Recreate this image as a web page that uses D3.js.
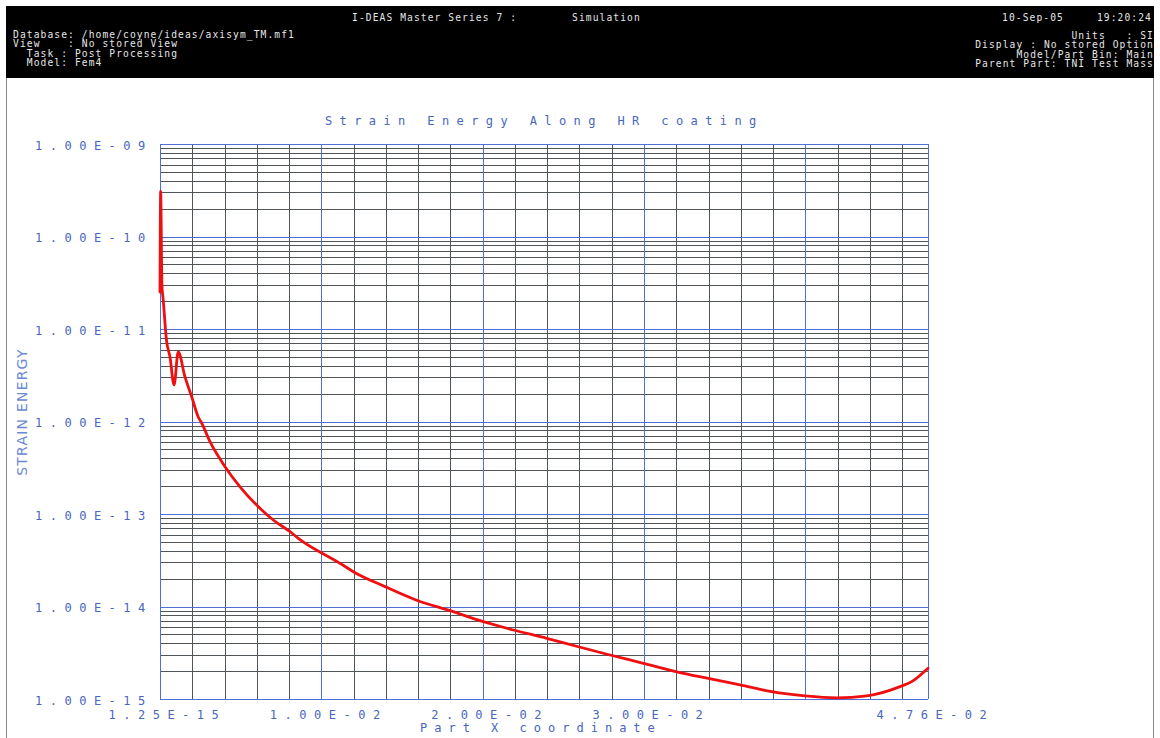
<!DOCTYPE html>
<html><head><meta charset="utf-8">
<script src="https://cdn.jsdelivr.net/npm/d3@7"></script>
<style>
html,body{margin:0;padding:0;background:#fff;overflow:hidden;}
svg{display:block;}
text{white-space:pre;}
</style></head><body>
<svg id="c" width="1160" height="738"></svg>
<script>
// ---- data ----
const xValues = [0, 0.00004, 0.00012, 0.0002, 0.0004, 0.00062, 0.00087, 0.00113, 0.00155, 0.00197,
  0.00237, 0.00259, 0.0031, 0.00403, 0.00496, 0.00599, 0.00702, 0.00806, 0.00857, 0.01116,
  0.01198, 0.01395, 0.01591, 0.01797, 0.02004, 0.0219, 0.02397, 0.02593, 0.02789, 0.02996,
  0.03203, 0.03398, 0.03595, 0.03791, 0.03998, 0.04194, 0.0438, 0.04587, 0.04659, 0.0476];
const yValues = [2.51e-11, 3.1e-10, 2.99e-11, 2.06e-11, 7.6e-12, 4.98e-12, 2.48e-12, 5.64e-12, 3.03e-12, 1.84e-12,
  1.12e-12, 9.57e-13, 6.05e-13, 3.25e-13, 1.97e-13, 1.25e-13, 8.61e-14, 6.44e-14, 5.46e-14, 2.93e-14,
  2.38e-14, 1.64e-14, 1.17e-14, 9.01e-15, 6.85e-15, 5.57e-15, 4.53e-15, 3.67e-15, 2.99e-15, 2.43e-15,
  1.97e-15, 1.67e-15, 1.42e-15, 1.2e-15, 1.08e-15, 1.03e-15, 1.08e-15, 1.36e-15, 1.54e-15, 2.15e-15];
const xTickValues = [1.25e-15, 0.01, 0.02, 0.03, 0.0476];
const xTickLabels = ["1.25E-15", "1.00E-02", "2.00E-02", "3.00E-02", "4.76E-02"];
const yTickValues = [1e-9, 1e-10, 1e-11, 1e-12, 1e-13, 1e-14, 1e-15];
const yTickLabels = ["1.00E-09", "1.00E-10", "1.00E-11", "1.00E-12", "1.00E-13", "1.00E-14", "1.00E-15"];
const chartTitle = "Strain Energy Along HR coating";
const xTitle = "Part X coordinate";
const yTitle = "STRAIN ENERGY";
const headerTitle = "I-DEAS Master Series 7 :";
const headerApp = "Simulation";
const headerDate = "10-Sep-05";
const headerTime = "19:20:24";
const headerLeft = ["Database: /home/coyne/ideas/axisym_TM.mf1", "View    : No stored View", "  Task : Post Processing", "  Model: Fem4"];
const headerRight = ["Units   : SI", "Display : No stored Option", "Model/Part Bin: Main", "Parent Part: TNI Test Mass"];

// ---- layout ----
const svg = d3.select("#c");
const L = 160, R = 928, T = 144, B = 699;
const x = d3.scaleLinear().domain([0, 0.0476]).range([L, R]);
const y = d3.scaleLog().domain([1e-15, 1e-9]).range([B, T]);

const BLUE = "#4f6fd6", GRID = "#50555a", TXT = "#4866c0";
const mono = "'DejaVu Sans Mono', 'Liberation Mono', monospace";

// frame & header
svg.append("rect").attr("x", 6.5).attr("y", 6.5).attr("width", 1147).attr("height", 760)
  .attr("fill", "none").attr("stroke", "#8a8a8a");
svg.append("rect").attr("x", 6).attr("y", 6).attr("width", 1148).attr("height", 72).attr("fill", "#000");
const hdr = svg.append("g").attr("font-family", mono).attr("font-size", "9.6px")
  .attr("letter-spacing", 1.1).attr("fill", "#e6e6e6");
hdr.append("text").attr("x", 352).attr("y", 21).text(headerTitle);
hdr.append("text").attr("x", 572).attr("y", 21).text(headerApp);
hdr.append("text").attr("x", 1002).attr("y", 21).text(headerDate);
hdr.append("text").attr("x", 1152).attr("y", 21).attr("text-anchor", "end").text(headerTime);
const leftBase = [37.5, 47, 56.5, 66], rightBase = [38.5, 48, 57.5, 67];
headerLeft.forEach((s, i) => hdr.append("text").attr("x", 13).attr("y", leftBase[i]).text(s));
headerRight.forEach((s, i) => hdr.append("text").attr("x", 1154).attr("y", rightBase[i]).attr("text-anchor", "end").text(s));

// grid (via axes)
const yMinor = [];
for (let k = -15; k < -9; k++) for (let m = 2; m <= 9; m++) yMinor.push(m * Math.pow(10, k));
const xMinor = d3.range(1, 24).map(i => i * 0.002).filter((v, i) => (i + 1) % 5 !== 0);
const xMajor = [0, 0.01, 0.02, 0.03, 0.04, 0.0476];

function gridify(g, color) {
  g.select(".domain").remove();
  g.selectAll(".tick text").remove();
  g.selectAll(".tick line").attr("stroke", color).attr("stroke-width", 1).attr("shape-rendering", "crispEdges");
}
svg.append("g").attr("transform", `translate(${L},0)`)
  .call(d3.axisLeft(y).tickValues(yMinor).tickSize(-(R - L)).tickSizeOuter(0))
  .call(g => gridify(g, GRID));
svg.append("g").attr("transform", `translate(0,${B})`)
  .call(d3.axisBottom(x).tickValues(xMinor).tickSize(-(B - T)).tickSizeOuter(0))
  .call(g => gridify(g, GRID));
svg.append("g").attr("transform", `translate(${L},0)`)
  .call(d3.axisLeft(y).tickValues(yTickValues).tickSize(-(R - L)).tickSizeOuter(0))
  .call(g => gridify(g, BLUE));
svg.append("g").attr("transform", `translate(0,${B})`)
  .call(d3.axisBottom(x).tickValues(xMajor).tickSize(-(B - T)).tickSizeOuter(0))
  .call(g => gridify(g, BLUE));

// curve
const pts = xValues.map((v, i) => [v, yValues[i]]);
svg.append("path").datum(pts)
  .attr("fill", "none").attr("stroke", "#ee1010").attr("stroke-width", 2.8)
  .attr("stroke-linejoin", "round").attr("stroke-linecap", "round")
  .attr("d", d3.line().curve(d3.curveMonotoneX).x(d => x(d[0])).y(d => y(d[1])));

// tick labels (axes)
const LS = 7.5;
svg.append("g").attr("transform", `translate(${L},0)`)
  .call(d3.axisLeft(y).tickValues(yTickValues).tickFormat((d, i) => yTickLabels[i]).tickSize(0))
  .call(g => {
    g.select(".domain").remove();
    g.selectAll(".tick text").attr("x", -125).attr("dy", "0.45em").attr("text-anchor", "start")
      .attr("fill", TXT).attr("font-family", mono).attr("font-size", "12px").attr("letter-spacing", LS);
  });
svg.append("g").attr("transform", `translate(0,${B})`)
  .call(d3.axisBottom(x).tickValues(xTickValues).tickFormat((d, i) => xTickLabels[i]).tickSize(0))
  .call(g => {
    g.select(".domain").remove();
    g.selectAll(".tick text").attr("x", -52).attr("y", 20).attr("dy", 0).attr("text-anchor", "start")
      .attr("fill", TXT).attr("font-family", mono).attr("font-size", "12px").attr("letter-spacing", LS);
  });

// titles
svg.append("text").attr("x", 325).attr("y", 125).attr("fill", TXT)
  .attr("font-family", mono).attr("font-size", "12px").attr("letter-spacing", 7.4).text(chartTitle);
svg.append("text").attr("x", 420).attr("y", 732).attr("fill", TXT)
  .attr("font-family", mono).attr("font-size", "12px").attr("letter-spacing", 7.0).text(xTitle);
svg.append("text").attr("transform", "translate(27,412) rotate(-90)").attr("text-anchor", "middle")
  .attr("fill", "#6b8ad6").attr("font-family", "'DejaVu Sans', sans-serif").attr("font-size", "14px")
  .attr("letter-spacing", 1.2).text(yTitle);
</script>
</body></html>
